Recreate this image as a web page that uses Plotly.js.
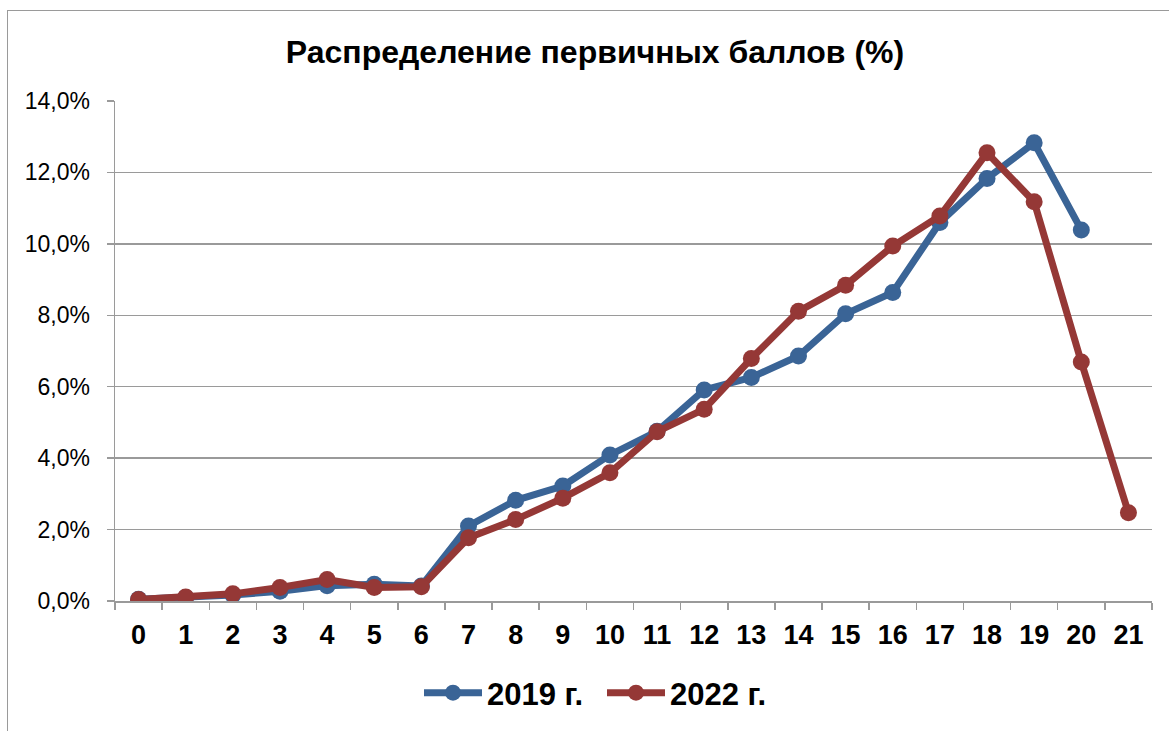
<!DOCTYPE html>
<html>
<head>
<meta charset="utf-8">
<script src="https://cdn.plot.ly/plotly-3.0.1.min.js"></script>
<style>
html,body{margin:0;padding:0;background:#fff;}
#wrap{position:relative;width:1169px;height:731px;overflow:hidden;}
#frame{position:absolute;left:7px;top:10px;width:1200px;height:800px;border:1px solid #9a9a9a;box-sizing:border-box;pointer-events:none;}
#chart{position:absolute;left:0;top:0;width:1169px;height:731px;}
</style>
</head>
<body>
<div id="wrap">
<div id="chart"></div>
<div id="frame"></div>
</div>
<script>
const titleText = 'Распределение первичных баллов (%)';
const scores = ['0','1','2','3','4','5','6','7','8','9','10','11','12','13','14','15','16','17','18','19','20','21'];
const series2019Name = '2019 г.';
const series2022Name = '2022 г.';
const values2019 = [0.0005,0.0010,0.0017,0.0027,0.0043,0.0047,0.0042,0.0210,0.0282,0.0322,0.0409,0.0475,0.0591,0.0626,0.0686,0.0804,0.0864,0.1060,0.1183,0.1283,0.1039,null];
const values2022 = [0.0004,0.0011,0.0020,0.0038,0.0060,0.0038,0.0040,0.0177,0.0228,0.0288,0.0359,0.0474,0.0537,0.0679,0.0811,0.0884,0.0994,0.1078,0.1255,0.1118,0.0669,0.0247];
const yTicks = [0,0.02,0.04,0.06,0.08,0.10,0.12,0.14];

const blue = '#3A6496';
const red = '#953836';

const traces = [
  {x: scores, y: values2019, name: series2019Name, type: 'scatter', mode: 'lines+markers',
   line: {color: blue, width: 7}, marker: {color: blue, size: 17}},
  {x: scores, y: values2022, name: series2022Name, type: 'scatter', mode: 'lines+markers',
   line: {color: red, width: 7}, marker: {color: red, size: 17}}
];

const layout = {
  width: 1169, height: 731,
  paper_bgcolor: 'rgba(0,0,0,0)', plot_bgcolor: '#fff',
  separators: ', ',
  margin: {l: 115, r: 17, t: 101, b: 130, autoexpand: false},
  font: {family: 'Liberation Sans, Arial, sans-serif', color: '#000'},
  title: {text: '<b>' + titleText + '</b>', font: {size: 32, color: '#000'},
          x: 595/1169, xanchor: 'center', xref: 'container', y: 1 - 52/731, yanchor: 'middle', yref: 'container'},
  xaxis: {type: 'category', categoryorder: 'array', categoryarray: scores,
          range: [-0.5, 21.5], showgrid: false, showline: true, linecolor: '#9a9a9a', linewidth: 1.5,
          ticks: 'outside', tickson: 'boundaries', ticklen: 7, tickcolor: '#9a9a9a', tickwidth: 1.5,
          tickangle: 0, automargin: false,
          tickfont: {size: 27, color: '#000', family: 'Liberation Sans, Arial, sans-serif', weight: 'bold'},
          ticklabelstandoff: 9, zeroline: false, fixedrange: true},
  yaxis: {range: [0, 0.14], tickvals: yTicks, tickformat: '.1%', showgrid: true, gridcolor: '#9a9a9a', gridwidth: 1.5,
          showline: true, linecolor: '#9a9a9a', linewidth: 1.5, ticks: 'outside', ticklen: 7, tickcolor: '#9a9a9a', tickwidth: 1.5,
          automargin: false,
          tickfont: {size: 23, color: '#000'}, ticklabelstandoff: 12, zeroline: false, fixedrange: true},
  showlegend: true,
  legend: {orientation: 'h', x: (419-115)/1037, xanchor: 'left', y: (601-693)/500, yanchor: 'middle',
           font: {size: 31, color: '#000', weight: 'bold'}, itemwidth: 58, entrywidth: 110, entrywidthmode: 'pixels',
           traceorder: 'normal', bgcolor: 'rgba(0,0,0,0)'}
};

Plotly.newPlot('chart', traces, layout, {displayModeBar: false, staticPlot: true});
</script>
</body>
</html>
